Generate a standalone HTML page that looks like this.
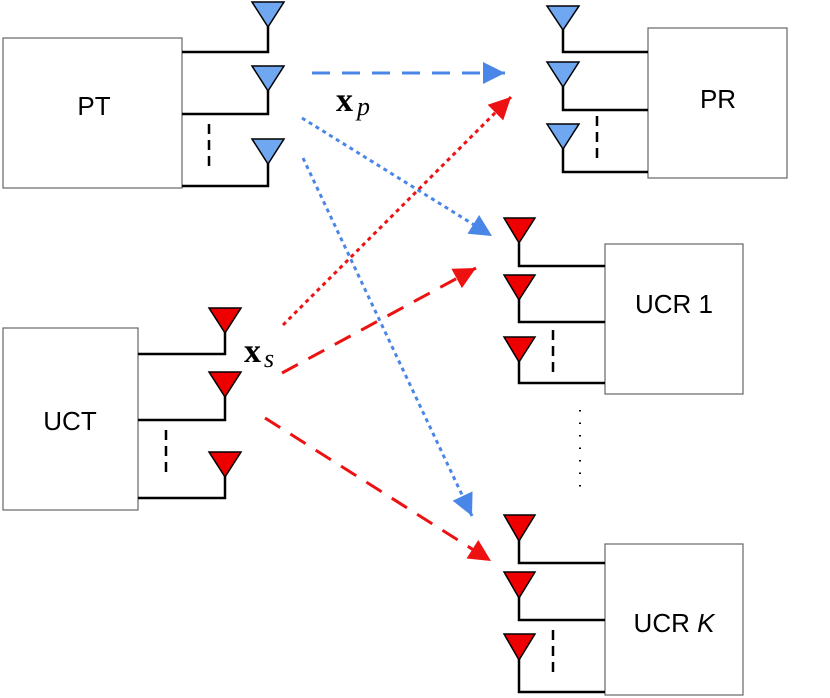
<!DOCTYPE html>
<html><head><style>body{margin:0;background:#fff}svg{display:block}</style></head><body>
<svg width="830" height="698" viewBox="0 0 830 698" xmlns="http://www.w3.org/2000/svg">
<defs>
<marker id="abl" viewBox="0 0 10 10" refX="10" refY="5" markerWidth="24" markerHeight="22" orient="auto" markerUnits="userSpaceOnUse"><path d="M0,0L10,5L0,10z" fill="#4a86e8"/></marker>
<marker id="ar" viewBox="0 0 10 10" refX="10" refY="5" markerWidth="24" markerHeight="22" orient="auto" markerUnits="userSpaceOnUse"><path d="M0,0L10,5L0,10z" fill="#ee1111"/></marker>
</defs>
<g fill="#fff" stroke="#666" stroke-width="1.2">
<rect x="3" y="38" width="179" height="150"/>
<rect x="648" y="28" width="139" height="150"/>
<rect x="605" y="244" width="138" height="150"/>
<rect x="605" y="544" width="138" height="151"/>
<rect x="3" y="328" width="135" height="182"/>
</g>
<g font-family="Liberation Sans, sans-serif" font-size="26" text-anchor="middle">
<text x="94" y="115">PT</text>
<text x="718" y="108">PR</text>
<text x="674" y="313">UCR 1</text>
<text x="674" y="632">UCR <tspan font-style="italic">K</tspan></text>
<text x="70" y="430">UCT</text>
</g>
<g stroke="#000" stroke-width="2.5" fill="none">
<path d="M182,52H268V26 M182,114H268V90 M182,186H268V162"/>
<line x1="209" y1="124" x2="209" y2="168" stroke-dasharray="10,6"/>
<path d="M648,52H563V29 M648,110H563V86 M648,172H563V148"/>
<line x1="597" y1="116" x2="597" y2="160" stroke-dasharray="10,6"/>
<path d="M605,266H519V243 M605,322H519V299 M605,383H519V361"/>
<line x1="553" y1="330" x2="553" y2="375" stroke-dasharray="10,6"/>
<path d="M605,563H519V540 M605,620H519V597 M605,692H519V659"/>
<line x1="553" y1="630" x2="553" y2="674" stroke-dasharray="10,6"/>
<path d="M138,354H225V332 M138,420H225V396 M138,498H225V476"/>
<line x1="166" y1="430" x2="166" y2="475" stroke-dasharray="10,6"/>
</g>
<g stroke="#000" stroke-width="1.5" fill="#6fa8f0">
<path d="M252,2H284L268,27z"/><path d="M252,66H284L268,91z"/><path d="M252,139H284L268,164z"/>
<path d="M547,6H579L563,30z"/><path d="M547,62H579L563,87z"/><path d="M547,124H579L563,149z"/>
</g>
<g stroke="#000" stroke-width="1.5" fill="#ee0000">
<path d="M504,218H535L519,243z"/><path d="M504,275H535L519,300z"/><path d="M504,337H535L519,362z"/>
<path d="M504,515H535L519,541z"/><path d="M504,572H535L519,598z"/><path d="M504,634H535L519,660z"/>
<path d="M209,308H241L225,333z"/><path d="M209,372H241L225,397z"/><path d="M209,452H241L225,477z"/>
</g>
<g fill="none" stroke-width="3">
<line x1="312" y1="73" x2="505" y2="73" stroke="#4a86e8" stroke-dasharray="18,12" marker-end="url(#abl)"/>
<line x1="302" y1="118" x2="492" y2="236" stroke="#4a86e8" stroke-dasharray="4,4" marker-end="url(#abl)"/>
<line x1="303" y1="158" x2="472" y2="516" stroke="#4a86e8" stroke-dasharray="4,4" marker-end="url(#abl)"/>
<line x1="283" y1="325" x2="511" y2="97" stroke="#ee1111" stroke-dasharray="4,4" marker-end="url(#ar)"/>
<line x1="282" y1="373" x2="476" y2="268" stroke="#ee1111" stroke-dasharray="18,12" marker-end="url(#ar)"/>
<line x1="265" y1="418" x2="491" y2="561" stroke="#ee1111" stroke-dasharray="18,12" marker-end="url(#ar)"/>
</g>
<line x1="580" y1="410" x2="580" y2="492" stroke="#000" stroke-width="2" stroke-dasharray="1.5,11"/>
<g font-family="Liberation Serif, serif">
<text x="336" y="111" font-size="34" font-weight="bold">x</text>
<text x="357" y="115" font-size="26" font-style="italic">p</text>
<text x="244" y="362" font-size="34" font-weight="bold">x</text>
<text x="264" y="367" font-size="26" font-style="italic">s</text>
</g>
</svg>
</body></html>
